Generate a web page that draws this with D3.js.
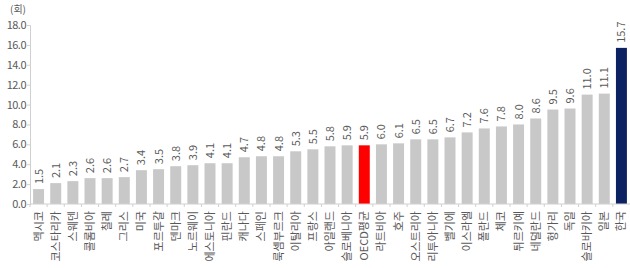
<!DOCTYPE html>
<html>
<head>
<meta charset="utf-8">
<script src="https://cdn.jsdelivr.net/npm/d3@7"></script>
<style>
  body { margin: 0; background: #fff; }
  text { font-family: "Noto Sans CJK KR", "Noto Sans", sans-serif; fill: #595959; }
</style>
</head>
<body>
<div id="chart"></div>
<script>
// categories and values
const countries = ["멕시코", "코스타리카", "스웨덴", "콜롬비아", "칠레", "그리스", "미국", "포르투갈", "덴마크", "노르웨이",
  "에스토니아", "핀란드", "캐나다", "스페인", "룩셈부르크", "이탈리아", "프랑스", "아일랜드", "슬로베니아", "OECD평균",
  "라트비아", "호주", "오스트리아", "리투아니아", "벨기에", "이스라엘", "폴란드", "체코", "튀르키예", "네덜란드",
  "헝가리", "독일", "슬로바키아", "일본", "한국"];
const values = [1.5, 2.1, 2.3, 2.6, 2.6, 2.7, 3.4, 3.5, 3.8, 3.9,
  4.1, 4.1, 4.7, 4.8, 4.8, 5.3, 5.5, 5.8, 5.9, 5.9,
  6.0, 6.1, 6.5, 6.5, 6.7, 7.2, 7.6, 7.8, 8.0, 8.6,
  9.5, 9.6, 11.0, 11.1, 15.7];
const yTicks = [0, 2, 4, 6, 8, 10, 12, 14, 16, 18];
const unitLabel = "(회)";

const data = countries.map((c, i) => ({ name: c, value: values[i] }));

const width = 630, height = 268;
const margin = { top: 25, right: 0, bottom: 64, left: 30 };
const innerW = width - margin.left - margin.right;
const innerH = height - margin.top - margin.bottom;

const svg = d3.select("#chart").append("svg")
  .attr("width", width).attr("height", height);

const g = svg.append("g")
  .attr("transform", `translate(${margin.left},${margin.top})`);

const x = d3.scaleBand().domain(countries).range([0, innerW]).paddingInner(0.36).paddingOuter(0.18);
const y = d3.scaleLinear().domain([0, 18]).range([innerH, 0]);

// y axis
const yAxis = g.append("g")
  .call(d3.axisLeft(y).tickValues(yTicks).tickFormat(d3.format(".1f")).tickSize(3));
yAxis.select(".domain").attr("stroke", "#d0d0d0");
yAxis.selectAll(".tick line").attr("stroke", "#d0d0d0");
yAxis.selectAll(".tick text").attr("x", -4).style("font-size", "11px").style("letter-spacing", "-0.5px");

svg.append("text")
  .attr("x", 18).attr("y", 13)
  .attr("text-anchor", "middle")
  .style("font-size", "10px")
  .text(unitLabel);

// bars
g.selectAll(".bar")
  .data(data)
  .enter().append("rect")
  .attr("class", "bar")
  .attr("x", d => x(d.name))
  .attr("y", d => y(d.value))
  .attr("width", x.bandwidth())
  .attr("height", d => innerH - y(d.value))
  .attr("fill", d => d.name === "OECD평균" ? "#ff0000" : d.name === "한국" ? "#0c2161" : "#c8c8c8");

// x axis with ticks between categories
const xAxisG = g.append("g").attr("transform", `translate(0,${innerH})`);
xAxisG.append("line")
  .attr("x1", 0).attr("x2", innerW)
  .attr("stroke", "#d0d0d0");
xAxisG.selectAll(".sep")
  .data(countries)
  .enter().append("line")
  .attr("class", "sep")
  .attr("x1", d => x(d) - x.step() * x.paddingInner() / 2)
  .attr("x2", d => x(d) - x.step() * x.paddingInner() / 2)
  .attr("y1", 0).attr("y2", 3)
  .attr("stroke", "#d0d0d0");

// category labels
xAxisG.selectAll(".cat")
  .data(data)
  .enter().append("text")
  .attr("class", "cat")
  .attr("transform", d => `translate(${x(d.name) + x.bandwidth() / 2 + 4},7) rotate(-90)`)
  .attr("text-anchor", "end")
  .style("font-size", "11px")
  .text(d => d.name);

// value labels
g.selectAll(".val")
  .data(data)
  .enter().append("text")
  .attr("class", "val")
  .attr("transform", d => `translate(${x(d.name) + x.bandwidth() / 2 + 4},${y(d.value) - 5}) rotate(-90)`)
  .attr("text-anchor", "start")
  .style("font-size", "11px")
  .text(d => d3.format(".1f")(d.value));
</script>
</body>
</html>
